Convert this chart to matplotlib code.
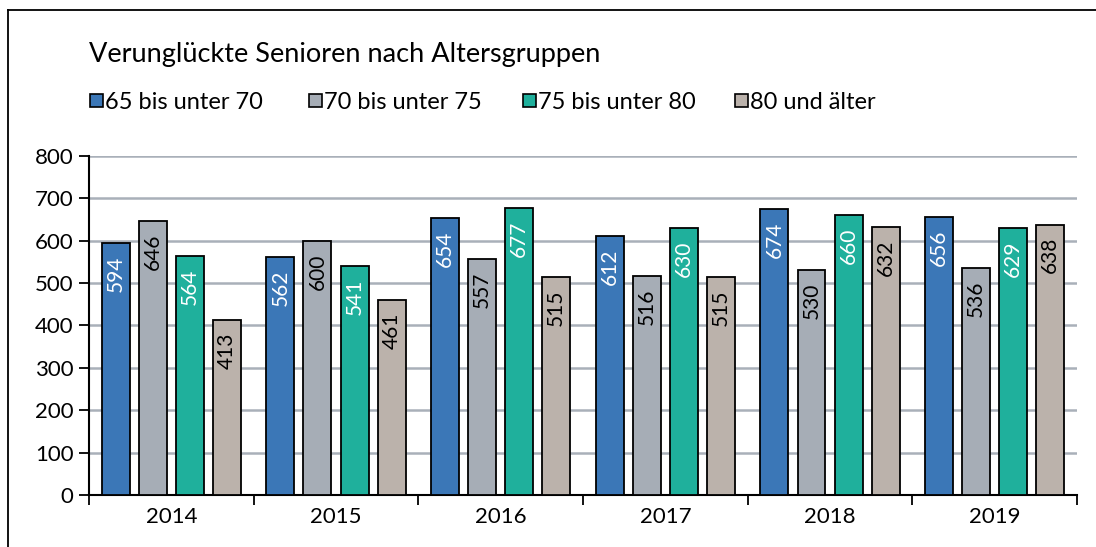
import numpy as np
import matplotlib.pyplot as plt
from matplotlib.patches import Rectangle
from matplotlib.lines import Line2D

# ── Data ──────────────────────────────────────────────────────────────────────
YEARS   = ["2014", "2015", "2016", "2017", "2018", "2019"]
GROUPS  = ["65 bis unter 70", "70 bis unter 75", "75 bis unter 80", "80 und älter"]
AGE_65  = [594, 562, 654, 612, 674, 656]
AGE_70  = [646, 600, 557, 516, 530, 536]
AGE_75  = [564, 541, 677, 630, 660, 629]
AGE_80  = [413, 461, 515, 515, 632, 638]

COLORS      = ["#3B77B7", "#A6ADB6", "#1FB09C", "#BBB2AB"]
TEXT_COLORS = ["white", "black", "white", "black"]

W, H = 1096, 547
plt.rcParams["font.family"] = ["Lato", "DejaVu Sans"]


def plot_chart():
    fig = plt.figure(figsize=(W / 100, H / 100), dpi=100)
    ax = fig.add_axes([0.0812, 0.0951, 0.9015, 0.6197])

    series = [AGE_65, AGE_70, AGE_75, AGE_80]
    x = np.arange(len(YEARS))
    step = 0.225
    width = 0.17
    offsets = (np.arange(4) - 1.5) * step

    for vals, off, col, tcol in zip(series, offsets, COLORS, TEXT_COLORS):
        bars = ax.bar(x + off, vals, width=width, color=col,
                      edgecolor="black", linewidth=1.3, zorder=3)
        for b, v in zip(bars, vals):
            ax.annotate(str(v), (b.get_x() + b.get_width() / 2, v),
                        xytext=(0, -9), textcoords="offset points",
                        rotation=90, ha="center", va="top",
                        fontsize=15, color=tcol, zorder=4)

    ax.set_xlim(-0.5, len(YEARS) - 0.5)
    ax.set_ylim(0, 800)
    ax.set_yticks(np.arange(0, 801, 100))
    ax.yaxis.grid(True, color="#A9B0B9", linewidth=1.8, zorder=0)
    ax.set_axisbelow(True)

    ax.set_xticks(x)
    ax.set_xticklabels(YEARS)
    ax.set_xticks(np.arange(-0.5, len(YEARS), 1), minor=True)
    ax.tick_params(axis="x", which="major", length=0, pad=9, labelsize=16)
    ax.tick_params(axis="x", which="minor", length=7, width=1.3,
                   direction="out")
    ax.tick_params(axis="y", length=7, width=1.3, labelsize=16, pad=4)

    for s in ["top", "right"]:
        ax.spines[s].set_visible(False)
    for s in ["left", "bottom"]:
        ax.spines[s].set_linewidth(1.5)

    fig.text(89 / W, 1 - 62 / H, "Verunglückte Senioren nach Altersgruppen",
             fontsize=19.5, ha="left", va="baseline")

    # legend drawn by hand so the spacing matches
    leg_x = [90, 309, 523, 735]
    for lx, lab, col in zip(leg_x, GROUPS, COLORS):
        fig.add_artist(Rectangle((lx / W, 1 - 107 / H), 13 / W, 13 / H,
                                 facecolor=col, edgecolor="black",
                                 linewidth=1.2, transform=fig.transFigure))
        fig.text((lx + 15) / W, 1 - 109 / H, lab, fontsize=17,
                 ha="left", va="baseline")

    # outer frame (left and top edges visible)
    fig.add_artist(Line2D([8 / W, 8 / W], [0.0, 1 - 10 / H], color="black",
                          linewidth=1.3, transform=fig.transFigure))
    fig.add_artist(Line2D([8 / W, 1.0], [1 - 10 / H, 1 - 10 / H],
                          color="black", linewidth=1.3,
                          transform=fig.transFigure))

    fig.savefig("out.png", dpi=100)


if __name__ == "__main__":
    plot_chart()
